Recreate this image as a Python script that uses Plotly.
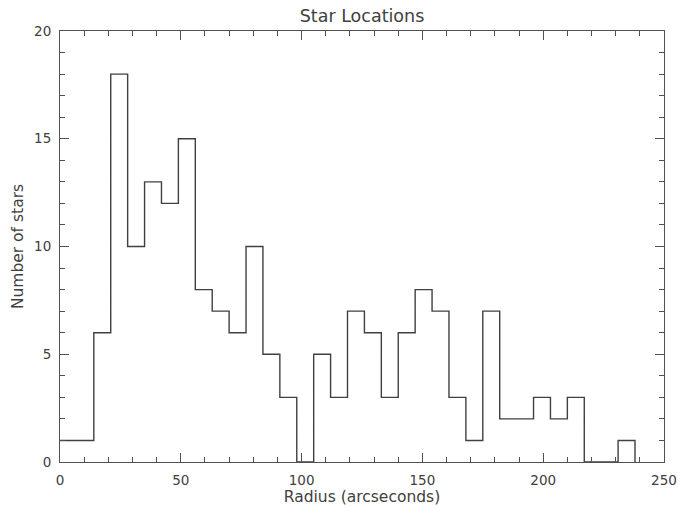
import plotly.graph_objects as go

# Histogram of star radii: fixed-width bins starting at 0 arcsec
bin_start = 0
bin_width = 7
counts = [1, 1, 6, 18, 10, 13, 12, 15, 8, 7, 6, 10, 5, 3, 0, 5, 3,
          7, 6, 3, 6, 8, 7, 3, 1, 7, 2, 2, 3, 2, 3, 0, 0, 1]

x_ticks = [0, 50, 100, 150, 200, 250]
y_ticks = [0, 5, 10, 15, 20]

# Step outline: each bin's left edge carries its count, final edge drops to 0
edges = [bin_start + i * bin_width for i in range(len(counts) + 1)]
levels = counts + [0]

font_family = "DejaVu Sans, Liberation Sans, sans-serif"
ink = "#404040"
axis_color = "#505050"

fig = go.Figure(
    go.Scatter(
        x=edges,
        y=levels,
        mode="lines",
        line=dict(shape="hv", color="#404040", width=1.4),
        hoverinfo="skip",
    )
)

axis_common = dict(
    showline=True,
    linecolor=axis_color,
    linewidth=1,
    mirror="allticks",
    ticks="inside",
    tickcolor=axis_color,
    tickwidth=1,
    showgrid=False,
    zeroline=False,
    automargin=False,
    tickfont=dict(family=font_family, size=13.5, color=ink),
)

fig.update_xaxes(
    range=[0, 250],
    tickvals=x_ticks,
    ticklen=9,
    minor=dict(dtick=10, ticks="inside", ticklen=5, tickcolor=axis_color, showgrid=False),
    title=dict(text="Radius (arcseconds)", font=dict(family=font_family, size=15.5, color=ink), standoff=3),
    ticklabelstandoff=6,
    **axis_common,
)
fig.update_yaxes(
    range=[0, 20],
    tickvals=y_ticks,
    ticklen=9,
    minor=dict(dtick=1, ticks="inside", ticklen=5, tickcolor=axis_color, showgrid=False),
    title=dict(text="Number of stars", font=dict(family=font_family, size=15.5, color=ink), standoff=6),
    ticklabelstandoff=5,
    **axis_common,
)

fig.update_layout(
    width=678,
    height=509,
    margin=dict(l=60, r=14, t=31, b=46.5),
    paper_bgcolor="white",
    plot_bgcolor="white",
    showlegend=False,
    title=dict(
        text="Star Locations",
        x=(60 + 664) / 2 / 678,
        xref="container",
        xanchor="center",
        y=1 - 16 / 509,
        yanchor="middle",
        font=dict(family=font_family, size=17.5, color=ink),
    ),
)

fig.write_html("out.html")
